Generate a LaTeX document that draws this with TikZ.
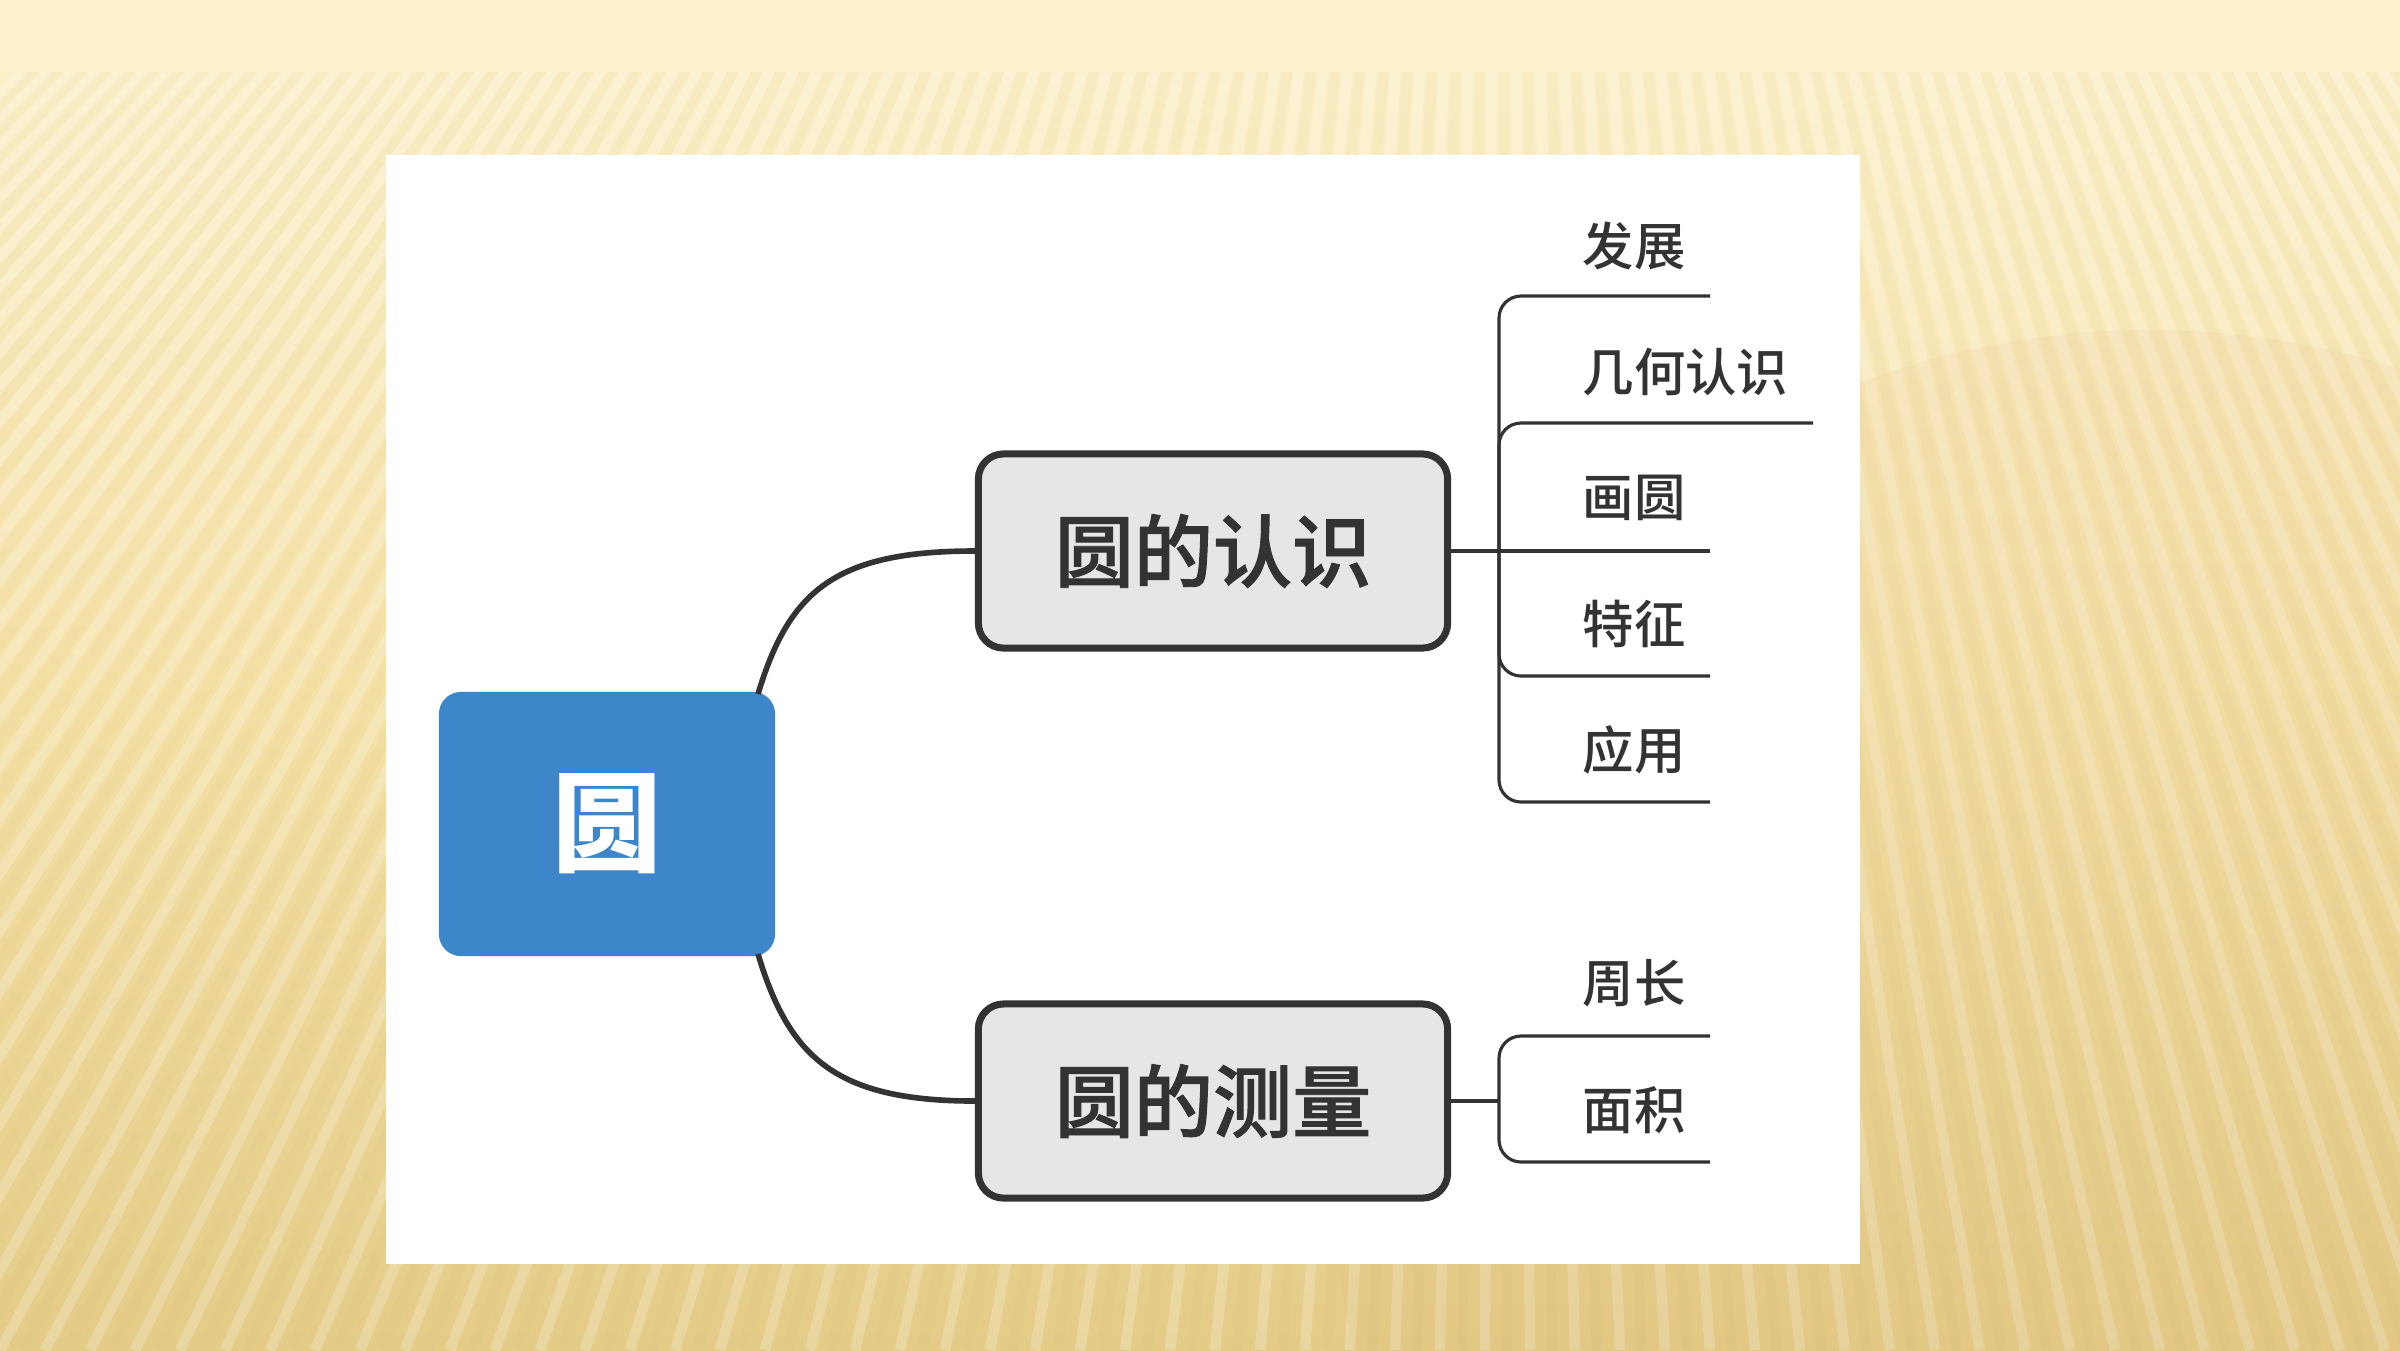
\documentclass[tikz,border=0pt]{standalone}
\usepackage{fontspec}
\newfontfamily\cjk{Noto Sans CJK SC Medium}
\newfontfamily\cjkm[FakeBold=1.2]{Noto Sans CJK SC Medium}
\newfontfamily\cjkb{Noto Sans CJK SC}
\usetikzlibrary{calc}
\definecolor{ink}{HTML}{333333}
\definecolor{boxfill}{HTML}{E6E6E6}
\definecolor{rootblue}{HTML}{3C86C9}
\definecolor{bgtop}{HTML}{FCF1CB}
\definecolor{bgmid}{HTML}{F5E2A8}
\definecolor{bgbot}{HTML}{E4CC87}
\tikzset{
  rootbox/.style={fill=rootblue, rounded corners=0.22cm, minimum width=3.36cm, minimum height=2.64cm,
    inner sep=0pt, text=white, font=\cjkb\bfseries\fontsize{31}{36}\selectfont},
  topicbox/.style={fill=boxfill, draw=ink, line width=2pt, rounded corners=0.25cm,
    minimum width=4.69cm, minimum height=1.94cm, inner sep=0pt, text=ink,
    font=\cjkm\fontsize{22.5}{27}\selectfont},
  leaf/.style={anchor=west, inner sep=0pt, text=ink, font=\cjk\fontsize{14.6}{18}\selectfont},
  conn/.style={draw=ink, line width=1.6pt},
  branch/.style={draw=ink, line width=0.9pt, rounded corners=0.22cm},
  litestripe/.style={draw=white, opacity=0.22, line width=3pt},
  darkstripe/.style={draw=brown, opacity=0.035, line width=3pt}
}
\begin{document}
\begin{tikzpicture}[x=0.01cm, y=-0.01cm]
\useasboundingbox (0,0) rectangle (2400,1350);
% background
\shade[top color=bgtop, bottom color=bgbot, middle color=bgmid] (0,0) rectangle (2400,1350);
\coordinate (fan) at (1500,-1400);
\begin{scope}
  \clip (0,72) rectangle (2400,1350);
  \foreach \i in {-1260,-1215,...,3250} {
    \draw[litestripe] (fan) -- (\i,1350);
    \draw[darkstripe] (fan) -- (\i+22,1350);
  }
\end{scope}
\fill[brown, opacity=0.05] (2150,1150) circle (820);
\fill[bgtop] (0,0) rectangle (2400,72);
% white panel
\fill[white] (386,155) rectangle (1860,1264);

% main nodes
\node[rootbox] (root) at (607,824) {圆};
\node[topicbox] (t1) at (1213,551) {圆的认识};
\node[topicbox] (t2) at (1213,1101) {圆的测量};

% connectors from root
\coordinate (r1) at (758,694);
\coordinate (r2) at (758,954);
\draw[conn] (r1) .. controls +(31,-103) and +(-140,0) .. (t1.west);
\draw[conn] (r2) .. controls +(31,103) and +(-140,0) .. (t2.west);

% branches of t1
\coordinate (s1) at (1499,551);
\coordinate (e1) at (1710,296);
\coordinate (e2) at (1813,423);
\coordinate (e3) at (1710,551);
\coordinate (e4) at (1710,676);
\coordinate (e5) at (1710,802);
\draw[branch] (t1.east) -- (e3);
\draw[branch] (s1) |- (e1);
\draw[branch] (s1) |- (e2);
\draw[branch] (s1) |- (e4);
\draw[branch] (s1) |- (e5);
\node[leaf] (l1) at (1582,246) {发展};
\node[leaf] (l2) at (1582,372) {几何认识};
\node[leaf] (l3) at (1582,498) {画圆};
\node[leaf] (l4) at (1582,624) {特征};
\node[leaf] (l5) at (1582,750) {应用};

% branches of t2
\coordinate (s2) at (1499,1101);
\coordinate (e6) at (1710,1036);
\coordinate (e7) at (1710,1162);
\draw[branch] (t2.east) -- (s2);
\draw[branch] (s2) |- (e6);
\draw[branch] (s2) |- (e7);
\node[leaf] (l6) at (1582,983) {周长};
\node[leaf] (l7) at (1582,1110) {面积};
\end{tikzpicture}
\end{document}
